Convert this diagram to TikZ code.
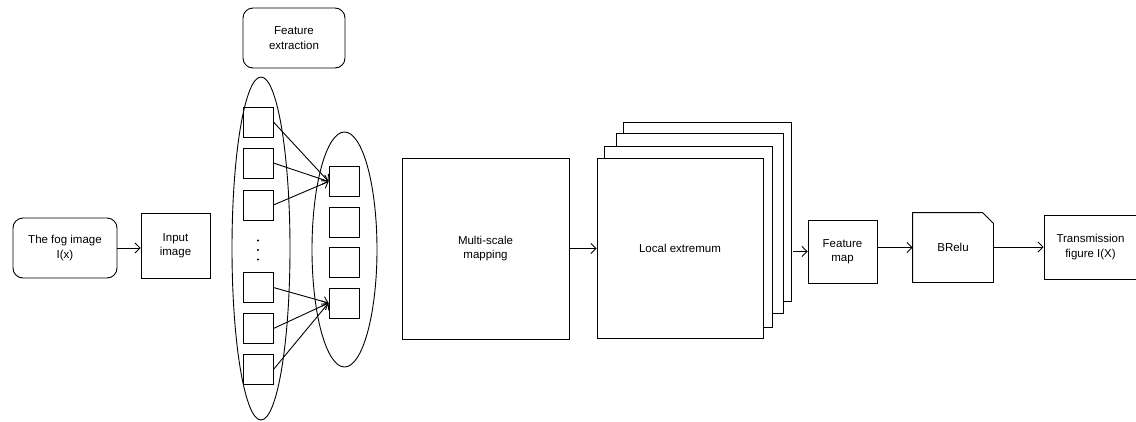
\documentclass[tikz,border=0pt]{standalone}
\usepackage{fontspec}
\setmainfont{Liberation Sans}
\usetikzlibrary{shapes.geometric,arrows.meta}
\begin{document}
\begin{tikzpicture}[x=1pt,y=-1pt,
  box/.style={draw, line width=0.9pt, inner sep=0pt, align=center,
    font=\fontsize{11.5}{14.5}\selectfont, fill=white},
  rbox/.style={box, rounded corners=10pt},
  sq/.style={draw, line width=0.9pt, inner sep=0pt, minimum width=30pt, minimum height=30pt},
  ell/.style={draw, ellipse, line width=0.9pt, inner sep=0pt},
  arr/.style={line width=0.9pt, -{Straight Barb[length=5pt,width=10pt]}}]
\useasboundingbox (0,0) rectangle (1136,421);
% left part
\node[rbox, minimum width=104pt, minimum height=60pt] (fog) at (65,248) {The fog image\\I(x)};
\node[box, minimum width=69pt, minimum height=65pt] (input) at (175.5,245.5) {Input\\image};
\node[rbox, minimum width=102pt, minimum height=60pt] (feat) at (294,38) {Feature\\extraction};
\node[ell, minimum width=58pt, minimum height=343pt] (ellL) at (261,248.5) {};
\node[ell, minimum width=65pt, minimum height=235pt] (ellR) at (344.5,249.5) {};
\node[sq] (L1) at (258,122) {};
\node[sq] (L2) at (258,163) {};
\node[sq] (L3) at (258,205) {};
\node[sq] (L4) at (258,287.5) {};
\node[sq] (L5) at (258,328.5) {};
\node[sq] (L6) at (258,369.5) {};
\coordinate (dots) at (258,250);
\foreach \d in {-9.5,0,9.5} \fill ([yshift=\d pt]dots) circle (1.1pt);
\node[sq] (R1) at (344,181.5) {};
\node[sq] (R2) at (344,222) {};
\node[sq] (R3) at (344,262) {};
\node[sq] (R4) at (344,303) {};
% middle
\node[box, minimum width=167pt, minimum height=181pt] (ms) at (485.5,248.5) {Multi-scale\\mapping};
\node[box, minimum width=168pt, minimum height=179pt] (b4) at (707,211.5) {};
\node[box, minimum width=167pt, minimum height=180pt] (b3) at (699.5,223) {};
\node[box, minimum width=168pt, minimum height=181pt] (b2) at (688,236.5) {};
\node[box, minimum width=166pt, minimum height=180pt] (le) at (680,248) {Local extremum};
% right part
\node[box, minimum width=69pt, minimum height=63pt] (fm) at (842.5,251.5) {Feature\\map};
\node[box, draw=none, fill=none, minimum width=80pt, minimum height=69pt] (br) at (953,247.5) {BRelu};
\draw[line width=0.9pt] (br.south west) -- (br.north west) -- ([xshift=-11pt]br.north east) -- ([yshift=-11pt]br.north east) -- (br.south east) -- cycle;
\node[box, minimum width=93pt, minimum height=64pt] (tr) at (1090.5,247) {Transmission\\figure I(X)};
% connectors
\draw[arr] (fog.east) -- (fog.east -| input.west);
\draw[arr] (L1.east) -- (R1.west);
\draw[arr] (L2.east) -- (R1.west);
\draw[arr] (L3.east) -- (R1.west);
\draw[arr] (L4.east) -- (R4.west);
\draw[arr] (L5.east) -- (R4.west);
\draw[arr] (L6.east) -- (R4.west);
\draw[arr] (ms.east) -- (ms.east -| le.west);
\coordinate (s) at ([xshift=2pt]b4.east |- fm.west);
\draw[arr] (s) -- (fm.west);
\draw[arr] (fm.east |- br.west) -- (br.west);
\draw[arr] (br.east |- tr.west) -- (tr.west);
\end{tikzpicture}
\end{document}
